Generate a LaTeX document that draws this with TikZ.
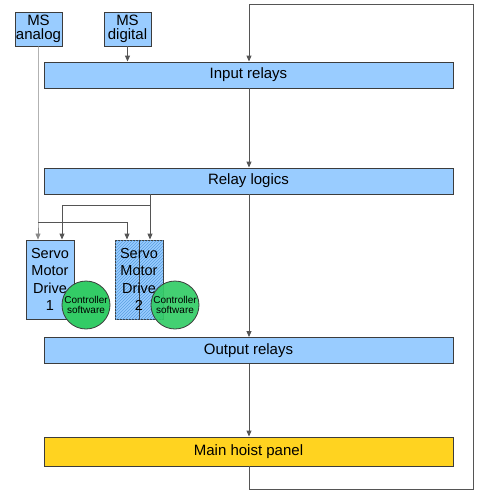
\documentclass[tikz,border=0pt]{standalone}
\usepackage{fontspec}
\setmainfont{Liberation Sans}
\usetikzlibrary{arrows.meta,patterns}
\definecolor{boxblue}{HTML}{99CCFF}
\definecolor{hoistyellow}{HTML}{FFD320}
\definecolor{csgreen}{HTML}{33CC66}
\definecolor{edge}{HTML}{3C3C3C}
\definecolor{wire}{HTML}{555555}
\definecolor{hatch}{HTML}{5A9FE0}
\tikzset{
  bar/.style={draw=edge, line width=0.9pt, fill=boxblue, minimum width=409pt, minimum height=26pt, inner sep=0pt, font=\fontsize{15}{16}\selectfont},
  small/.style={draw=edge, line width=0.9pt, fill=boxblue, minimum width=47pt, minimum height=34pt, inner sep=0pt, align=center, font=\fontsize{15}{14.5}\selectfont},
  drive/.style={draw=edge, line width=0.9pt, fill=boxblue, minimum width=48pt, minimum height=79pt, inner sep=0pt, align=center, font=\fontsize{14.5}{17.5}\selectfont},
  csw/.style={circle, draw=edge, line width=0.8pt, fill=csgreen, minimum size=48pt, inner sep=0pt, align=center, font=\fontsize{10}{10.5}\selectfont},
  wireline/.style={draw=wire, line width=0.9pt},
  arr/.style={wireline, -{Triangle[length=6pt,width=5pt]}},
}
\begin{document}
\begin{tikzpicture}[x=1pt,y=-1pt]
\useasboundingbox (0,0) rectangle (484,499);
% nodes
\node[small] (msa) at (38.5,29) {MS\\analog};
\node[small] (msd) at (127.5,29) {MS\\digital};
\node[bar] (inr) at (248.5,75) {Input relays};
\node[bar] (rel) at (248.5,181) {Relay logics};
\node[drive] (sd1) at (50,279.5) {Servo\\Motor\\Drive\\1};
\node[drive, postaction={pattern=north east lines, pattern color=hatch}] (sd2) at (139,279.5) {};
\draw[edge, line width=0.9pt] (sd2.north) -- (sd2.south);
\node[font=\fontsize{14.5}{17.5}\selectfont, align=center] (sd2t) at (sd2.center) {Servo\\Motor\\Drive\\2};
\node[csw] (cs1) at (86,305) {Controller\\software};
\node[csw, fill opacity=0.92, text opacity=1] (cs2) at (175,305) {Controller\\software};
\node[bar] (outr) at (248.5,350.5) {Output relays};
\node[bar, fill=hoistyellow, minimum height=29pt] (main) at (248.5,451.5) {Main hoist panel};
% coordinates
\coordinate (fbbl) at (249,489);
\coordinate (fbbr) at (473,489);
\coordinate (fbtr) at (473,4);
\coordinate (fbtl) at (249,4);
\coordinate (ab) at (38,222);
\coordinate (abr) at (127,222);
\coordinate (rb) at (150,205);
\coordinate (rbl) at (62,205);
% connectors
\draw[arr, draw=wire!70, line width=0.6pt] (msa.south -| ab) -- (ab) -- (ab |- sd1.north);
\draw[arr] (ab) -- (abr) -- (abr |- sd2.north);
\draw[arr] (msd.south) -- (msd.south |- inr.north);
\draw[arr] (rel.south -| rb) -- (rb |- sd2.north);
\draw[arr] (rb) -- (rbl) -- (rbl |- sd1.north);
\draw[arr] (main.south -| fbbl) -- (fbbl) -- (fbbr) -- (fbtr) -- (fbtl) -- (fbtl |- inr.north);
\draw[arr] (inr.south -| fbtl) -- (fbtl |- rel.north);
\draw[arr] (rel.south -| fbtl) -- (fbtl |- outr.north);
\draw[arr] (outr.south -| fbtl) -- (fbtl |- main.north);
\end{tikzpicture}
\end{document}
